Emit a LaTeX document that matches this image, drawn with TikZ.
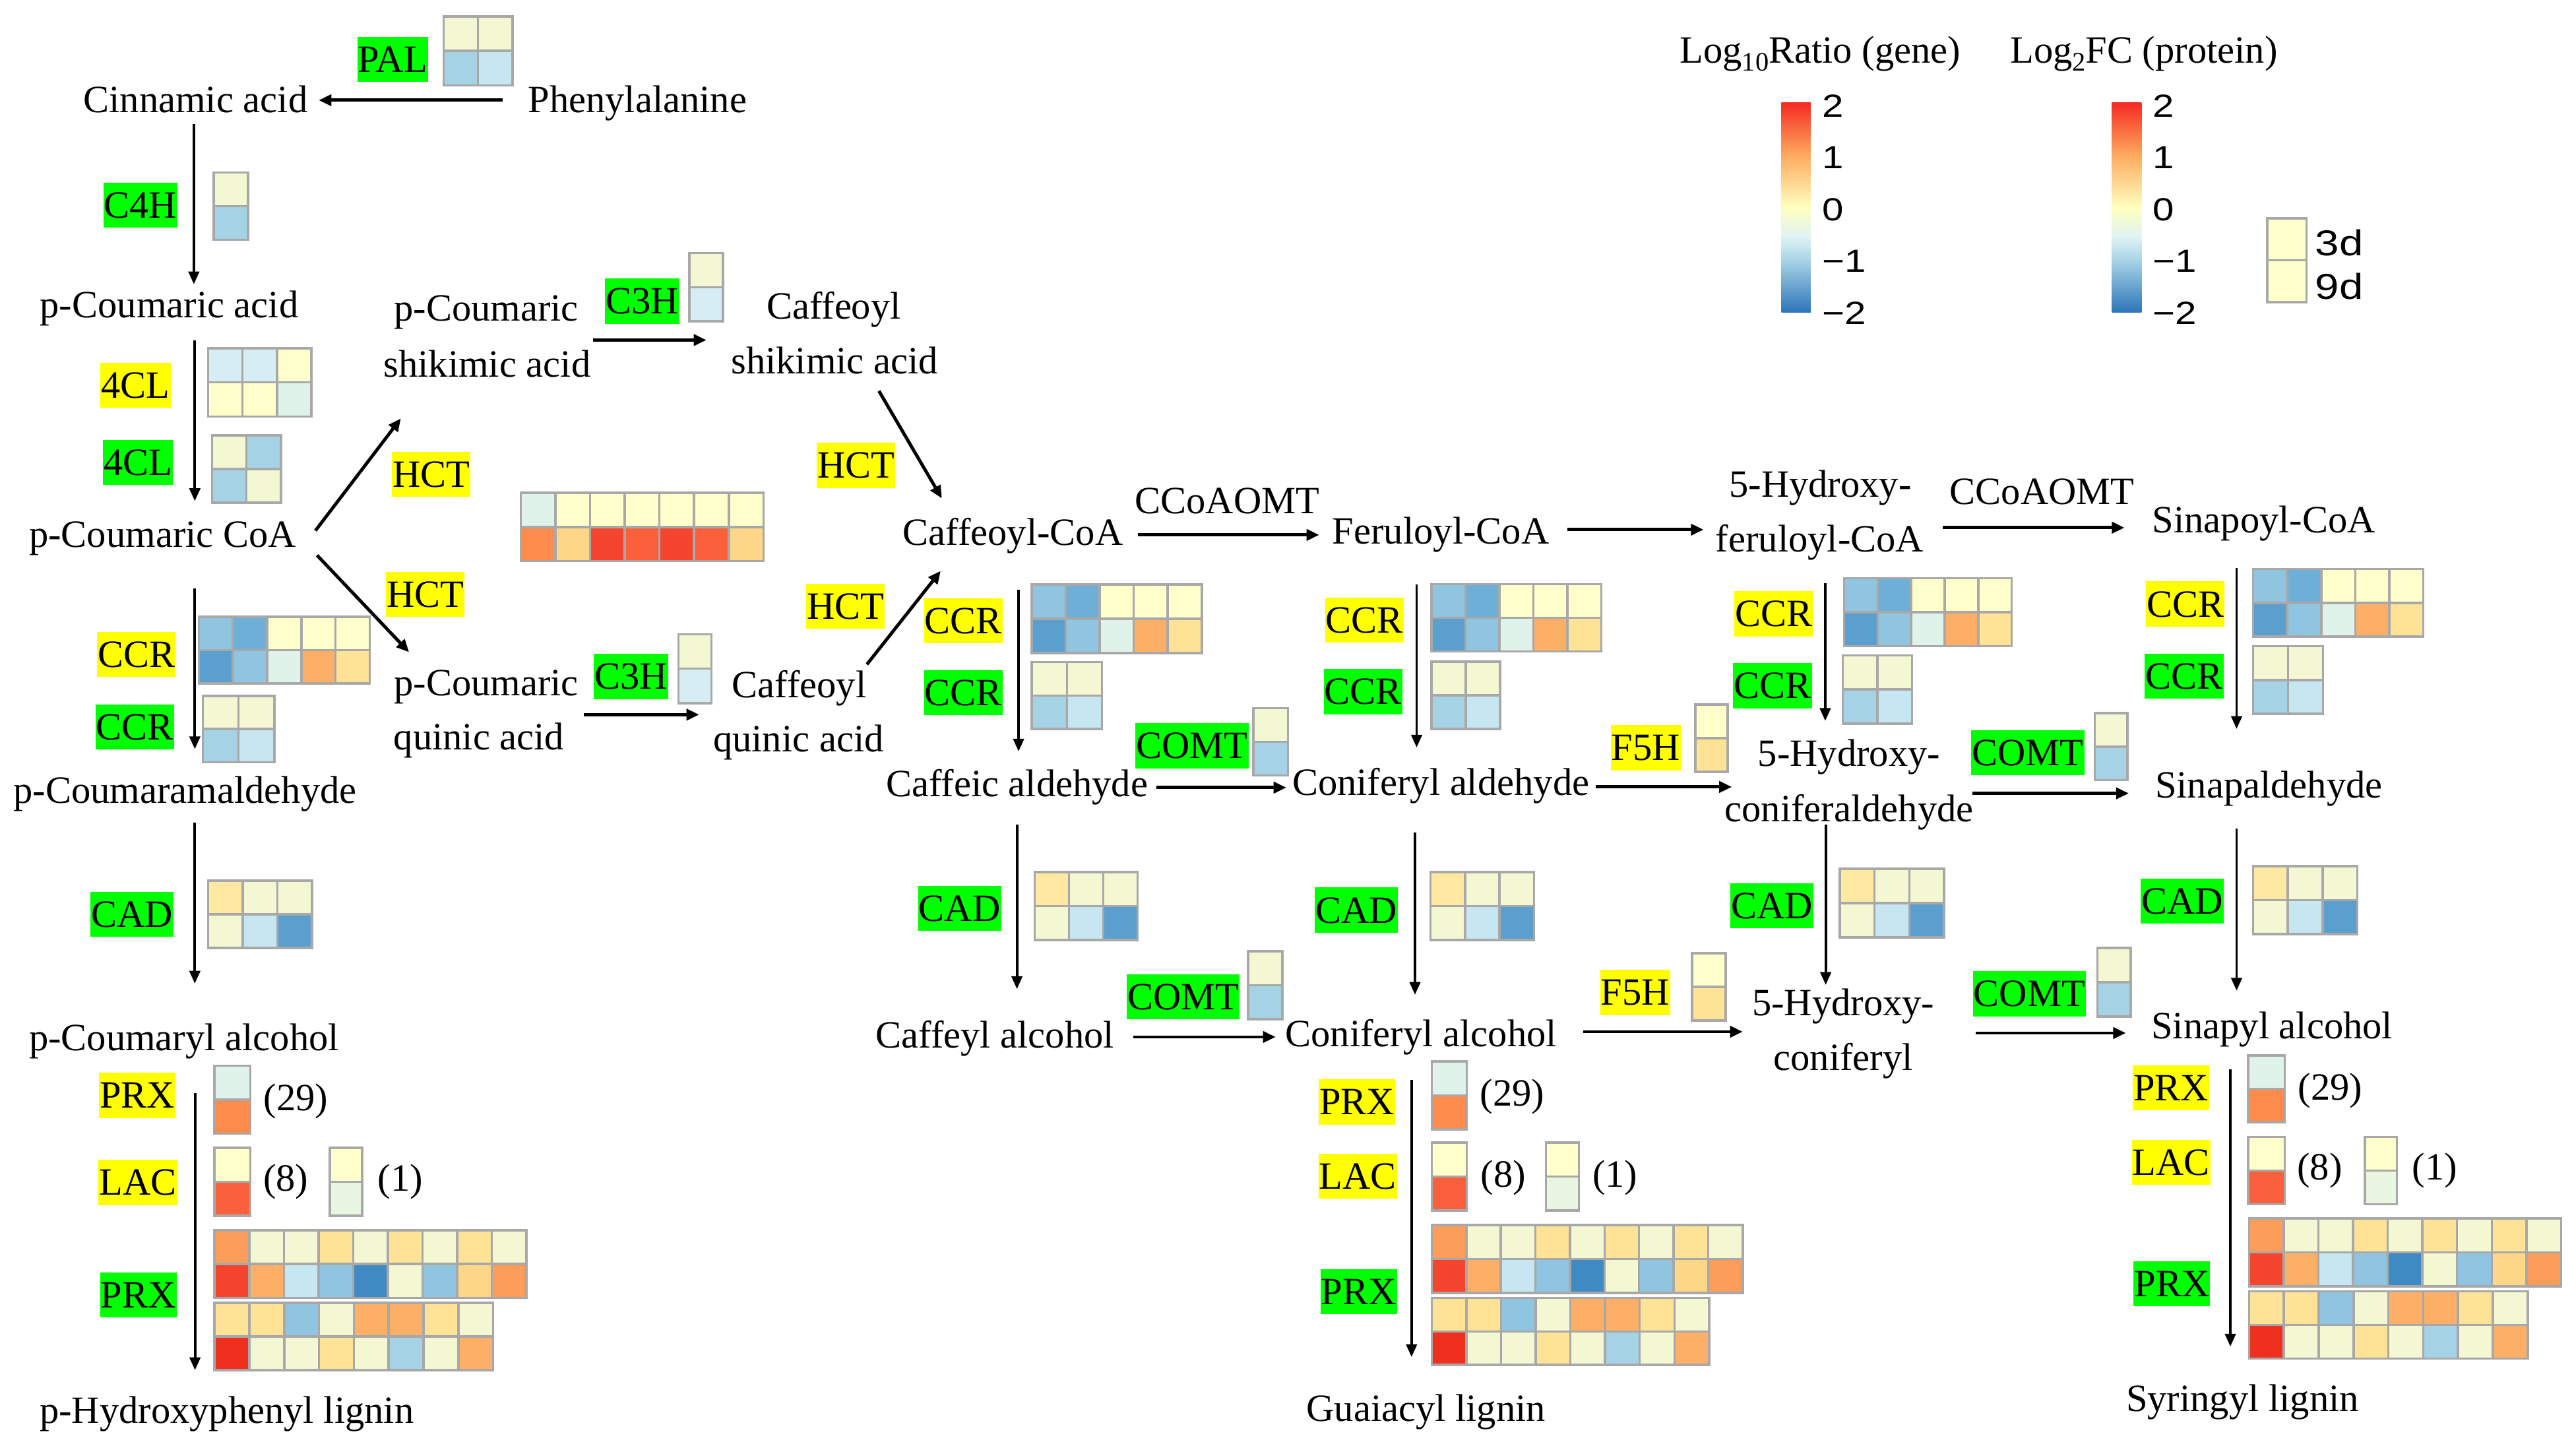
\documentclass[tikz,border=0pt]{standalone}
\usepackage{fontspec}
\setmainfont{Liberation Serif}
\newfontfamily\legfont{Liberation Sans}
\newfontfamily\legfontw{Liberation Sans}[FakeStretch=1.2]
\usetikzlibrary{arrows.meta}
\definecolor{egreen}{HTML}{00FF00}
\definecolor{eyellow}{HTML}{FFFF00}
\definecolor{Y0}{HTML}{FFFFCC}
\definecolor{Y1}{HTML}{F3F7D2}
\definecolor{G0}{HTML}{E0F3EA}
\definecolor{G1}{HTML}{E8F6E2}
\definecolor{C0}{HTML}{D6EEF3}
\definecolor{B1}{HTML}{C6E6F1}
\definecolor{B2}{HTML}{A6D2E6}
\definecolor{B3}{HTML}{8FC5E0}
\definecolor{B4}{HTML}{6DAFD6}
\definecolor{B5}{HTML}{5B9FCF}
\definecolor{B6}{HTML}{3F8AC3}
\definecolor{O0}{HTML}{FEE8A2}
\definecolor{O1}{HTML}{FEE396}
\definecolor{O2}{HTML}{FED687}
\definecolor{O3}{HTML}{FDAF67}
\definecolor{O35}{HTML}{FC9D5A}
\definecolor{O4}{HTML}{FC8B4C}
\definecolor{R1}{HTML}{FB603D}
\definecolor{R2}{HTML}{F5452F}
\definecolor{R3}{HTML}{F0301F}
\definecolor{cb1}{HTML}{2C75B8}
\definecolor{cb2}{HTML}{A9D4E6}
\definecolor{cbw}{HTML}{E0F3F5}
\definecolor{cb3}{HTML}{FFFFBF}
\definecolor{cb4}{HTML}{FDAA5E}
\definecolor{cb5}{HTML}{F52A22}
\definecolor{cellgray}{HTML}{A8A8A8}
\pgfdeclareverticalshading{rdylbu}{100bp}{color(0bp)=(cb1); color(25bp)=(cb1); color(37.5bp)=(cb2); color(43bp)=(cbw); color(50bp)=(cb3); color(62.5bp)=(cb4); color(75bp)=(cb5); color(100bp)=(cb5)}
\newcommand\mainsz{\fontsize{16.65pt}{24pt}\selectfont}
\newcommand\hrow[5]{\foreach \hc [count=\hk from 0] in {#5}{\filldraw[fill=\hc,cellb] ({#1+\hk*#3},{#2}) rectangle ++({#3},{#4});}}
\newcommand\hm[6]{\hrow{#1}{#2}{#3}{#4}{#5}\hrow{#1}{#2+#4}{#3}{#4}{#6}}
\begin{document}
\begin{tikzpicture}[x=0.024904cm,y=-0.024904cm,
  cellb/.style={draw=cellgray,line width=1pt},
  met/.style={font=\mainsz,inner sep=0pt,anchor=base},
  enz/.style={font=\mainsz,inner xsep=0.3pt,inner ysep=0pt,text height=0.5354cm,text depth=0.1494cm,anchor=center},
  eg/.style={enz,fill=egreen},
  ey/.style={enz,fill=eyellow},
  varr/.style={-{Triangle[length=5.5pt,width=4.6pt]},line width=1.1pt},
  harr/.style={-{Triangle[length=5.5pt,width=4.8pt]},line width=1.4pt},
  legnum/.style={font=\legfontw\fontsize{13.8pt}{14pt}\selectfont,inner sep=0pt,anchor=west},
  legday/.style={font=\legfontw\fontsize{15.5pt}{17pt}\selectfont,inner sep=0pt,anchor=west}]
\fill[white] (0,0) rectangle (1568,880);
\useasboundingbox (0,0) rectangle (1568,880);

% ---------- heatmaps ----------
\hm{270}{10}{21}{21}{Y1,Y1}{B2,B1}
\hm{130}{105}{21}{20.5}{Y1}{B2}
\hm{126.6}{212}{21}{20.75}{C0,C0,Y0}{Y0,Y0,G0}
\hm{129}{265}{21}{20.5}{Y1,B2}{B2,Y1}
\hm{317}{300}{21.1}{20.75}{G0,Y0,Y0,Y0,Y0,Y0,Y0}{O4,O2,R2,R1,R2,R1,O2}
\hm{419.6}{154}{20.4}{20.8}{Y1}{C0}
\hm{413}{386}{20}{21}{Y1}{C0}
\hm{121}{375.5}{20.8}{20.25}{B3,B4,Y0,Y0,Y0}{B5,B3,G0,O3,O1}
\hm{123.5}{423.6}{21.75}{20.2}{Y1,Y1}{B2,B1}
\hm{126.6}{536}{21.1}{20.5}{O0,Y1,Y1}{Y1,B1,B5}
\hm{130.6}{648.6}{21.8}{20.7}{G0}{O4}
\hm{130.6}{698.7}{21.8}{20.7}{Y0}{R1}
\hm{200.7}{698.7}{19.8}{20.7}{Y0}{G1}
\hm{130.6}{748.8}{21.1}{20.6}{O35,Y1,Y1,O1,Y1,O1,Y1,O1,Y1}{R2,O3,B1,B3,B6,Y1,B3,O2,O35}
\hm{130.6}{793}{21.2}{20.5}{O1,O1,B3,Y1,O3,O3,O1,Y1}{R3,Y1,Y1,O1,Y1,B2,Y1,O3}
% middle
\hm{628}{355.8}{20.7}{20.9}{B3,B4,Y0,Y0,Y0}{B5,B3,G0,O3,O1}
\hm{628}{403}{21.4}{20.4}{Y1,Y1}{B2,B1}
\hm{763}{431}{21}{20.5}{Y1}{B2}
\hm{629.8}{530.8}{20.9}{20.7}{O0,Y1,Y1}{Y1,B1,B5}
\hm{759.6}{579}{21}{20.7}{Y1}{B2}
\hm{871.3}{355.5}{20.7}{20.55}{B3,B4,Y0,Y0,Y0}{B5,B3,G0,O3,O1}
\hm{871.3}{402.8}{20.85}{20.5}{Y1,Y1}{B2,B1}
\hm{870.7}{530.8}{21}{20.7}{O0,Y1,Y1}{Y1,B1,B5}
\hm{1030}{580.2}{20.5}{20.5}{Y0}{O1}
\hm{871.5}{646}{21.3}{20.75}{G0}{O4}
\hm{871.5}{695.5}{21.3}{20.7}{Y0}{R1}
\hm{941}{695.5}{20}{20.7}{Y0}{G1}
\hm{871.5}{745.7}{21.03}{20.65}{O35,Y1,Y1,O1,Y1,O1,Y1,O1,Y1}{R2,O3,B1,B3,B6,Y1,B3,O2,O35}
\hm{871.5}{790}{21.1}{20.4}{O1,O1,B3,Y1,O3,O3,O1,Y1}{R3,Y1,Y1,O1,Y1,B2,Y1,O3}
% right
\hm{1032}{428.8}{19.6}{20.5}{Y0}{O1}
\hm{1122.5}{352}{20.4}{20.65}{B3,B4,Y0,Y0,Y0}{B5,B3,G0,O3,O1}
\hm{1121.7}{399}{21.1}{20.7}{Y1,Y1}{B2,B1}
\hm{1275}{434}{20}{20.45}{Y1}{B2}
\hm{1119.8}{528.8}{21.2}{20.9}{O0,Y1,Y1}{Y1,B1,B5}
\hm{1276.6}{577}{20.4}{20.9}{Y1}{B2}
\hm{1371.5}{346.4}{20.7}{20.55}{B3,B4,Y0,Y0,Y0}{B5,B3,G0,O3,O1}
\hm{1371.5}{393.3}{21.25}{20.6}{Y1,Y1}{B2,B1}
\hm{1371.5}{527.2}{21.1}{20.7}{O0,Y1,Y1}{Y1,B1,B5}
\hm{1368.4}{642.5}{22.3}{20.25}{G0}{O4}
\hm{1368.4}{692}{22.3}{20.5}{Y0}{R1}
\hm{1439.5}{692}{19.5}{20.5}{Y0}{G1}
\hm{1369}{741.6}{21.1}{20.7}{O35,Y1,Y1,O1,Y1,O1,Y1,O1,Y1}{R2,O3,B1,B3,B6,Y1,B3,O2,O35}
\hm{1369}{786}{21.2}{20.5}{O1,O1,B3,Y1,O3,O3,O1,Y1}{R3,Y1,Y1,O1,Y1,B2,Y1,O3}
% legend
\hm{1380}{133}{24}{25.5}{Y0}{Y0}
\shade[shading=rdylbu] (1084.4,62.4) rectangle (1102.2,190);
\shade[shading=rdylbu] (1285.6,62.4) rectangle (1303.5,190);

% ---------- metabolites ----------
\node[met] (cin) at (119,68.5) {Cinnamic acid};
\node[met] (phe) at (388,68.5) {Phenylalanine};
\node[met] (pca) at (103,193.5) {p-Coumaric acid};
\node[met] (pcoa) at (99,333) {p-Coumaric CoA};
\node[met] (pcs1) at (296,195.5) {p-Coumaric};
\node[met] (pcs2) at (296.5,229.5) {shikimic acid};
\node[met] (cfs1) at (507.5,194) {Caffeoyl};
\node[met] (cfs2) at (508,227.5) {shikimic acid};
\node[met] (pcq1) at (296,423.5) {p-Coumaric};
\node[met] (pcq2) at (291.5,456.5) {quinic acid};
\node[met] (cfq1) at (486.5,424.5) {Caffeoyl};
\node[met] (cfq2) at (486,457.5) {quinic acid};
\node[met] (cfcoa) at (616.6,331.7) {Caffeoyl-CoA};
\node[met] (omt1) at (747,312.6) {CCoAOMT};
\node[met] (fercoa) at (877,331) {Feruloyl-CoA};
\node[met] (hf1) at (1108,302.5) {5-Hydroxy-};
\node[met] (hf2) at (1107.6,336) {feruloyl-CoA};
\node[met] (omt2) at (1243,307) {CCoAOMT};
\node[met] (sincoa) at (1378,324.3) {Sinapoyl-CoA};
\node[met] (pcald) at (112.6,489) {p-Coumaramaldehyde};
\node[met] (cfald) at (619,485) {Caffeic aldehyde};
\node[met] (coald) at (877,484) {Coniferyl aldehyde};
\node[met] (hca1) at (1125.5,466.5) {5-Hydroxy-};
\node[met] (hca2) at (1125.5,500) {coniferaldehyde};
\node[met] (sinald) at (1381,485.7) {Sinapaldehyde};
\node[met] (pcalc) at (112,639.5) {p-Coumaryl alcohol};
\node[met] (cfalc) at (605.6,638) {Caffeyl alcohol};
\node[met] (coalc) at (865,637) {Coniferyl alcohol};
\node[met] (hcl1) at (1122,618) {5-Hydroxy-};
\node[met] (hcl2) at (1122,651.5) {coniferyl};
\node[met] (sinalc) at (1383,632.3) {Sinapyl alcohol};
\node[met] (hlig) at (138,866.5) {p-Hydroxyphenyl lignin};
\node[met] (glig) at (868,865) {Guaiacyl lignin};
\node[met] (slig) at (1365,859) {Syringyl lignin};
% counts
\node[met] (n29a) at (180,676) {(29)};
\node[met] (n8a) at (174,725) {(8)};
\node[met] (n1a) at (243.6,725) {(1)};
\node[met] (n29b) at (920.5,673.3) {(29)};
\node[met] (n8b) at (915,722.7) {(8)};
\node[met] (n1b) at (983,722.7) {(1)};
\node[met] (n29c) at (1418.4,669.5) {(29)};
\node[met] (n8c) at (1412,718) {(8)};
\node[met] (n1c) at (1482,718) {(1)};

% ---------- enzymes ----------
\node[eg] (pal) at (239,36.2) {PAL};
\node[eg] (c4h) at (85.5,124.8) {C4H};
\node[ey] (cl4y) at (82.5,234.5) {4CL};
\node[eg] (cl4g) at (84,281.5) {4CL};
\node[ey] (hct1) at (262.5,288.8) {HCT};
\node[ey] (hct2) at (258.9,361.8) {HCT};
\node[eg] (c3h1) at (391,183.3) {C3H};
\node[eg] (c3h2) at (384,411.8) {C3H};
\node[ey] (ccr1y) at (83,398.3) {CCR};
\node[eg] (ccr1g) at (82,442.5) {CCR};
\node[eg] (cad1) at (80.4,556.5) {CAD};
\node[ey] (prx1y) at (83.5,666.8) {PRX};
\node[ey] (lac1) at (83.9,719.8) {LAC};
\node[eg] (prx1g) at (84.2,788.3) {PRX};
\node[ey] (hct3) at (521,283.3) {HCT};
\node[ey] (hct4) at (514.7,369) {HCT};
\node[ey] (ccr2y) at (586.3,377.8) {CCR};
\node[eg] (ccr2g) at (586.3,421.7) {CCR};
\node[eg] (comt1) at (725.6,454) {COMT};
\node[eg] (cad2) at (584.1,552.9) {CAD};
\node[eg] (comt2) at (720.2,606.7) {COMT};
\node[ey] (ccr3y) at (830.5,377.5) {CCR};
\node[eg] (ccr3g) at (829.7,421) {CCR};
\node[eg] (cad3) at (825.5,554) {CAD};
\node[ey] (f5h2) at (995.4,604.1) {F5H};
\node[ey] (prx2y) at (826,670.7) {PRX};
\node[ey] (lac2) at (826.5,716) {LAC};
\node[eg] (prx2g) at (827,786.3) {PRX};
\node[ey] (f5h1) at (1001.7,455.1) {F5H};
\node[ey] (ccr4y) at (1079.6,373.6) {CCR};
\node[eg] (ccr4g) at (1078.9,417.3) {CCR};
\node[eg] (comt3) at (1234.3,458.2) {COMT};
\node[eg] (cad4) at (1078.6,551.3) {CAD};
\node[eg] (comt4) at (1235.3,604.9) {COMT};
\node[ey] (ccr5y) at (1330.1,367.7) {CCR};
\node[eg] (ccr5g) at (1329.5,411.6) {CCR};
\node[eg] (cad5) at (1328.3,548.6) {CAD};
\node[ey] (prx3y) at (1321.5,662.2) {PRX};
\node[ey] (lac3) at (1321.5,707.5) {LAC};
\node[eg] (prx3g) at (1322,781.4) {PRX};

% ---------- legend text ----------
\node[met] (lg1) at (1108,38.5) {Log\raisebox{-0.45ex}{\fontsize{11.5pt}{12pt}\selectfont 10}Ratio (gene)};
\node[met] (lg2) at (1305,38.5) {Log\raisebox{-0.45ex}{\fontsize{11.5pt}{12pt}\selectfont 2}FC (protein)};
\node[legnum] (l1a) at (1109,64.5) {2};
\node[legnum] (l1b) at (1109,96) {1};
\node[legnum] (l1c) at (1109,127.5) {0};
\node[legnum] (l1d) at (1109,159) {−1};
\node[legnum] (l1e) at (1109,190.5) {−2};
\node[legnum] (l2a) at (1310,64.5) {2};
\node[legnum] (l2b) at (1310,96) {1};
\node[legnum] (l2c) at (1310,127.5) {0};
\node[legnum] (l2d) at (1310,159) {−1};
\node[legnum] (l2e) at (1310,190.5) {−2};
\node[legday] (d3) at (1409,147.7) {3d};
\node[legday] (d9) at (1409,174.2) {9d};

% ---------- connectors ----------
\coordinate (a1s) at (306,61);   \coordinate (a1e) at (194,61);
\coordinate (a2s) at (118,75.5); \coordinate (a2e) at (118,173);
\coordinate (a3s) at (118.6,207); \coordinate (a3e) at (118.6,305);
\coordinate (a4s) at (192,323);  \coordinate (a4e) at (244,254.7);
\coordinate (a5s) at (193,338);  \coordinate (a5e) at (249,397);
\coordinate (a6s) at (361,207);  \coordinate (a6e) at (430,207);
\coordinate (a7s) at (355.5,435); \coordinate (a7e) at (425.6,435);
\coordinate (a8s) at (535,238);  \coordinate (a8e) at (573.3,303.4);
\coordinate (a9s) at (527.7,404.4); \coordinate (a9e) at (572.6,347.5);
\coordinate (a10s) at (118.6,358); \coordinate (a10e) at (118.6,456);
\coordinate (a11s) at (118.6,500.7); \coordinate (a11e) at (118.6,598.7);
\coordinate (a12s) at (118.7,665.4); \coordinate (a12e) at (118.7,834);
\coordinate (a13s) at (692.5,325.6); \coordinate (a13e) at (803,325.6);
\coordinate (a14s) at (954,322.4); \coordinate (a14e) at (1037,322.4);
\coordinate (a15s) at (1182.6,321.2); \coordinate (a15e) at (1293.2,321.2);
\coordinate (a16s) at (620,359); \coordinate (a16e) at (620,457.4);
\coordinate (a17s) at (862.3,355.8); \coordinate (a17e) at (862.3,455);
\coordinate (a18s) at (1111,355); \coordinate (a18e) at (1111,438.8);
\coordinate (a19s) at (1361.4,345.7); \coordinate (a19e) at (1361.4,443.7);
\coordinate (a20s) at (704,479.4); \coordinate (a20e) at (783,479.4);
\coordinate (a21s) at (971.3,479); \coordinate (a21e) at (1054.2,479);
\coordinate (a22s) at (1200.6,482.9); \coordinate (a22e) at (1295.8,482.9);
\coordinate (a23s) at (619,502); \coordinate (a23e) at (619,602);
\coordinate (a24s) at (861.3,506.7); \coordinate (a24e) at (861.3,605.5);
\coordinate (a25s) at (1111.3,502); \coordinate (a25e) at (1111.3,599.5);
\coordinate (a26s) at (1361.4,504.3); \coordinate (a26e) at (1361.4,603);
\coordinate (a27s) at (690,631.2); \coordinate (a27e) at (776.5,631.2);
\coordinate (a28s) at (963.7,628); \coordinate (a28e) at (1060.8,628);
\coordinate (a29s) at (1202.6,628.8); \coordinate (a29e) at (1294,628.8);
\coordinate (a30s) at (859.2,657.3); \coordinate (a30e) at (859.2,826);
\coordinate (a31s) at (1357.6,651); \coordinate (a31e) at (1357.6,819.6);
\foreach \n in {1,4,5,6,7,8,9,13,14,15,20,21,22,27,28,29}{\draw[harr] (a\n s) -- (a\n e);}
\foreach \n in {2,3,10,11,12,16,17,18,19,23,24,25,26,30,31}{\draw[varr] (a\n s) -- (a\n e);}
\end{tikzpicture}
\end{document}
